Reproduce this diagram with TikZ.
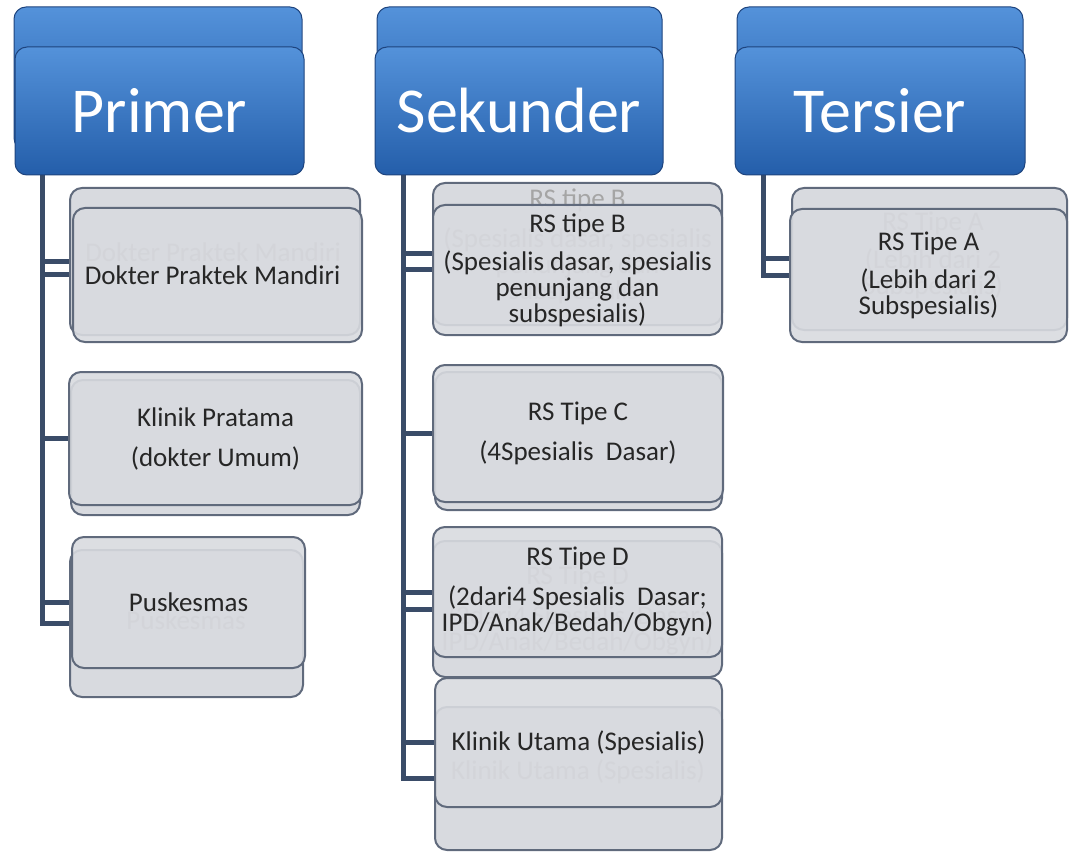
\documentclass[tikz,border=0pt]{standalone}
\usepackage{fontspec}
\setmainfont{Carlito}
\usetikzlibrary{backgrounds}
\definecolor{hdtop}{RGB}{84,146,218}
\definecolor{hdbot}{RGB}{36,94,170}
\definecolor{hdborder}{RGB}{30,68,126}
\definecolor{bxfill}{RGB}{216,218,223}
\definecolor{bxborder}{RGB}{96,106,124}
\definecolor{conncol}{RGB}{58,76,104}
\definecolor{txt}{RGB}{38,38,38}
\definecolor{ghosttxt}{RGB}{165,165,165}
\tikzset{
  hdr/.style={rectangle, rounded corners=12pt, draw=hdborder, line width=1pt,
    top color=hdtop, bottom color=hdbot, text=white,
    font=\fontsize{64}{70}\selectfont, inner sep=0pt},
  bbox/.style={rectangle, rounded corners=12pt, draw=bxborder, line width=2pt,
    fill=bxfill, text=txt, font=\fontsize{27}{26}\selectfont, align=center, inner sep=3pt},
  fbox/.style={bbox, fill opacity=0.9, text opacity=1},
  ghost/.style={text=ghosttxt, font=\fontsize{27}{26}\selectfont, align=center, inner sep=0pt},
  conn/.style={draw=conncol, line width=5pt},
}
\begin{document}
\begin{tikzpicture}[x=1pt,y=-1pt]
\useasboundingbox (0,0) rectangle (1069,853);

% headers
\node[hdr, minimum width=288pt, minimum height=143pt] (HPb) at (158,78.5) {};
\node[hdr, minimum width=289pt, minimum height=128pt] (HPf) at (159.5,111) {Primer};
\node[hdr, minimum width=285pt, minimum height=143pt] (HSb) at (519.5,78.5) {};
\node[hdr, minimum width=288pt, minimum height=128pt] (HSf) at (519,111) {Sekunder};
\node[hdr, minimum width=286pt, minimum height=143pt] (HTb) at (880,78.5) {};
\node[hdr, minimum width=290pt, minimum height=128pt] (HTf) at (880,111) {Tersier};

\coordinate (cP) at (42,165);
\coordinate (cS) at (403,165);
\coordinate (cT) at (763,165);

% Primer column
\node[bbox, minimum width=290pt, minimum height=147pt] (P1b) at (215,261.5) {};
\node[ghost] (gP1) at (213,252) {Dokter Praktek Mandiri};
\node[fbox, minimum width=289pt, minimum height=134pt] (P1f) at (217.5,275) {Dokter Praktek Mandiri\hspace*{10pt}};

\node[bbox, minimum width=289pt, minimum height=135pt] (P2b) at (215.5,447.5) {};
\node[fbox, minimum width=293pt, minimum height=133pt] (P2f) at (215.5,438.5) {Klinik Pratama\\[14pt](dokter Umum)};

\node[bbox, minimum width=233pt, minimum height=147pt] (P3b) at (186.5,623.5) {};
\node[ghost] (gP3) at (186,620) {Puskesmas};
\node[fbox, minimum width=233pt, minimum height=131pt] (P3f) at (188.5,602.5) {Puskesmas};

% Sekunder column
\node[bbox, minimum width=289pt, minimum height=142pt] (S1b) at (577.5,254) {};
\node[ghost] (gS1) at (577.5,246) {RS tipe B\\[14pt](Spesialis dasar, spesialis\\penunjang dan\\subspesialis)};
\node[fbox, minimum width=289pt, minimum height=130pt] (S1f) at (577.5,270) {RS tipe B\\[12pt](Spesialis dasar, spesialis\\penunjang dan\\subspesialis)};

\node[bbox, minimum width=287pt, minimum height=138pt] (S2b) at (578.5,441) {};
\node[fbox, minimum width=290pt, minimum height=137pt] (S2f) at (578,433.5) {RS Tipe C\\[14pt](4Spesialis\ \ Dasar)};

\node[bbox, minimum width=289pt, minimum height=136pt] (S3b) at (577.5,609) {};
\node[ghost] (gS3) at (577.5,611) {RS Tipe D\\[14pt](2dari4 Spesialis\ \ Dasar;\\IPD/Anak/Bedah/Obgyn)};
\node[fbox, minimum width=289pt, minimum height=130pt] (S3f) at (577.5,592) {RS Tipe D\\[14pt](2dari4 Spesialis\ \ Dasar;\\IPD/Anak/Bedah/Obgyn)};

\node[bbox, minimum width=287pt, minimum height=143pt] (S4b) at (578.5,778.5) {};
\node[ghost] (gS4) at (578,772) {Klinik Utama (Spesialis)};
\node[fbox, minimum width=287pt, minimum height=129pt] (S4f) at (578.5,742.5) {Klinik Utama (Spesialis)};

% Tersier column
\node[bbox, minimum width=275pt, minimum height=142pt] (T1b) at (929.5,259) {};
\node[ghost] (gT1) at (933,255) {RS Tipe A\\[12pt](Lebih dari 2\\Subspesialis)};
\node[fbox, minimum width=277pt, minimum height=133pt] (T1f) at (928.5,275.5) {RS Tipe A\\[12pt](Lebih dari 2\\Subspesialis)};

% connectors
\begin{scope}[on background layer]
\draw[conn] (cP) |- (P1b.west);
\draw[conn] (cP) |- (P1f.west);
\draw[conn] (cP) |- (P2f.west);
\draw[conn] (cP) |- (P3f.west);
\draw[conn] (cP) |- (P3b.west);
\draw[conn] (cS) |- (S1b.west);
\draw[conn] (cS) |- (S1f.west);
\draw[conn] (cS) |- (S2f.west);
\draw[conn] (cS) |- (S3f.west);
\draw[conn] (cS) |- (S3b.west);
\draw[conn] (cS) |- (S4f.west);
\draw[conn] (cS) |- (S4b.west);
\draw[conn] (cT) |- (T1b.west);
\draw[conn] (cT) |- (T1f.west);
\end{scope}
\end{tikzpicture}
\end{document}
